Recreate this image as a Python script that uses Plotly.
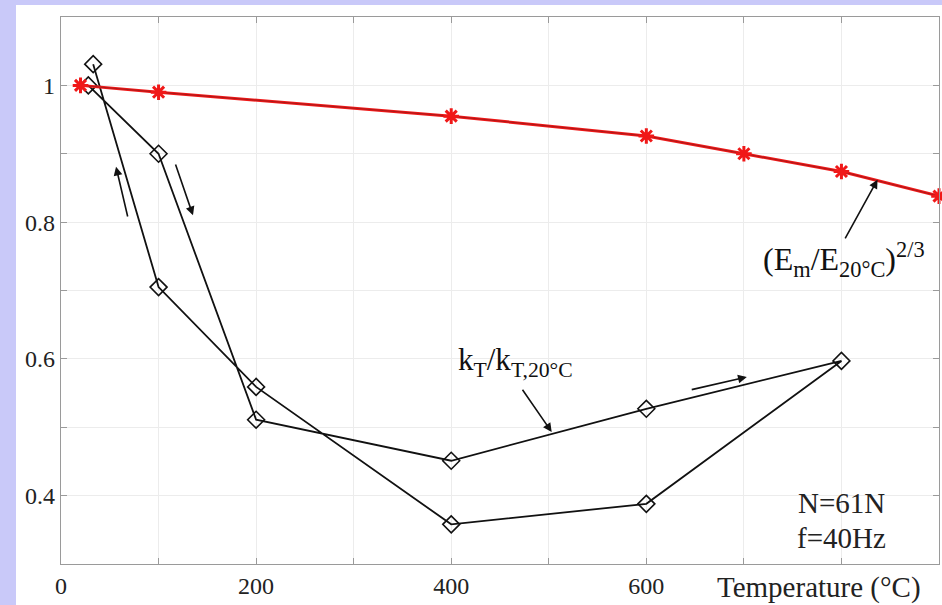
import plotly.graph_objects as go

# Normalised elastic modulus term vs temperature
temp_E = [20, 100, 400, 600, 700, 800, 900]
e_ratio = [1.0, 0.99, 0.955, 0.926, 0.90, 0.874, 0.838]

# Normalised stiffness k_T: heating branch then cooling branch
temp_heat = [28, 100, 200, 400, 600, 800]
k_heat = [1.0, 0.9, 0.511, 0.451, 0.527, 0.597]
temp_cool = [800, 600, 400, 200, 100, 33]
k_cool = [0.597, 0.388, 0.358, 0.559, 0.705, 1.031]

x_ticks = [0, 200, 400, 600, 800]
x_tick_text = ["0", "200", "400", "600", ""]
y_ticks = [0.4, 0.6, 0.8, 1.0]
y_tick_text = ["0.4", "0.6", "0.8", "1"]

SERIF = "Liberation Serif, Times New Roman, serif"
LAVENDER = "#c9c9f9"

fig = go.Figure()

k_temp = temp_heat + temp_cool[1:]
k_vals = k_heat + k_cool[1:]
fig.add_trace(go.Scatter(
    x=k_temp, y=k_vals, mode="lines+markers",
    line=dict(color="#111111", width=1.8),
    marker=dict(symbol="diamond-open", size=13, color="#111111",
                line=dict(color="#111111", width=1.6)),
    cliponaxis=False, showlegend=False,
))

fig.add_trace(go.Scatter(
    x=temp_E, y=e_ratio, mode="lines",
    line=dict(color="#f01818", width=3.0),
    cliponaxis=False, showlegend=False,
))
fig.add_trace(go.Scatter(
    x=temp_E, y=e_ratio, mode="lines+markers",
    line=dict(color="#8a1a1a", width=0.7),
    marker=dict(symbol="asterisk-open", size=13, color="#f01818",
                line=dict(color="#f01818", width=3)),
    cliponaxis=False, showlegend=False,
))

axis_common = dict(
    showline=True, linecolor="#9a9a9a", linewidth=1.2, mirror="ticks",
    ticks="inside", ticklen=6, tickcolor="#9a9a9a", tickwidth=1.2,
    showgrid=True, gridcolor="#ececec", gridwidth=1,
    zeroline=False,
    tickfont=dict(family=SERIF, size=24, color="#222222"),
)

fig.update_xaxes(
    range=[0, 900], tickmode="array", tickvals=x_ticks, ticktext=x_tick_text,
    minor=dict(dtick=100, tick0=0, ticks="inside", ticklen=6,
               tickcolor="#9a9a9a", showgrid=True, gridcolor="#ececec"),
    **axis_common,
)
fig.update_yaxes(
    range=[0.3, 1.1], tickmode="array", tickvals=y_ticks, ticktext=y_tick_text,
    minor=dict(dtick=0.1, tick0=0.3, ticks="inside", ticklen=6,
               tickcolor="#9a9a9a", showgrid=True, gridcolor="#ececec"),
    **axis_common,
)

arrow = dict(showarrow=True, arrowhead=2, arrowsize=1.1, arrowwidth=1.6,
             arrowcolor="#111111", axref="x", ayref="y", xref="x", yref="y",
             text="")
annotations = [
    dict(x=837, y=0.862, ax=803, ay=0.774, **arrow),
    dict(x=503, y=0.493, ax=472, ay=0.557, **arrow),
    dict(x=703, y=0.5735, ax=645, ay=0.5545, **arrow),
    dict(x=56.4, y=0.881, ax=68.7, ay=0.806, **arrow),
    dict(x=135.3, y=0.810, ax=116.9, ay=0.8865, **arrow),
    dict(x=718, y=0.746, xref="x", yref="y", xanchor="left", yanchor="middle",
         showarrow=False,
         text="(E<sub>m</sub>/E<sub>20°C</sub>)<sup>2/3</sup>",
         font=dict(family=SERIF, size=32, color="#111111")),
    dict(x=405, y=0.596, xref="x", yref="y", xanchor="left", yanchor="middle",
         showarrow=False,
         text="k<sub>T</sub>/k<sub>T,20°C</sub>",
         font=dict(family=SERIF, size=31, color="#111111")),
    dict(x=800, y=0.389, xref="x", yref="y", xanchor="center", yanchor="middle",
         showarrow=False, text="N=61N",
         font=dict(family=SERIF, size=29, color="#222222")),
    dict(x=800, y=0.338, xref="x", yref="y", xanchor="center", yanchor="middle",
         showarrow=False, text="f=40Hz",
         font=dict(family=SERIF, size=29, color="#222222")),
    dict(x=670, y=-0.043, xref="x", yref="paper", xanchor="left",
         yanchor="middle", showarrow=False, text="Temperature (°C)",
         font=dict(family=SERIF, size=29, color="#222222")),
]

# white page area inside the lavender border
shapes = [dict(type="rect", xref="paper", yref="paper", layer="below",
               x0=-45 / 878, x1=1.1, y0=-0.2, y1=(564 - 5) / 547,
               fillcolor="white", line=dict(width=0))]

fig.update_layout(
    width=942, height=605,
    margin=dict(l=61, r=3, t=17, b=41),
    paper_bgcolor=LAVENDER, plot_bgcolor="white",
    annotations=annotations, shapes=shapes,
    showlegend=False,
)

fig.write_html("out.html")
